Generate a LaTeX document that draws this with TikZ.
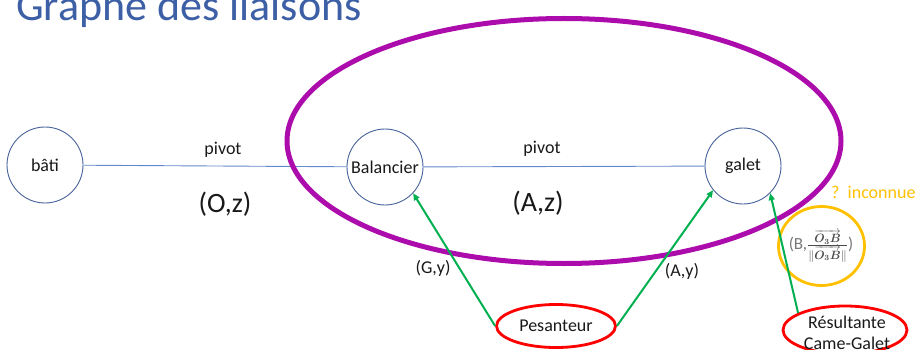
\documentclass[tikz,border=0pt]{standalone}
\usepackage{amsmath}
\usepackage{fontspec}
\setmainfont{Carlito}
\usetikzlibrary{arrows.meta,shapes.geometric}
\definecolor{titleblue}{RGB}{60,95,165}
\definecolor{circblue}{RGB}{72,98,155}
\definecolor{linkblue}{RGB}{100,135,205}
\definecolor{purp}{RGB}{172,12,172}
\definecolor{actgreen}{RGB}{0,176,80}
\definecolor{orng}{RGB}{255,192,0}
\definecolor{extred}{RGB}{255,0,0}
\definecolor{lblgray}{RGB}{120,120,120}
\begin{document}
\begin{tikzpicture}[x=1pt,y=-1pt,
  every node/.style={font=\fontsize{18}{21}\selectfont, text=black!90},
  part/.style={circle, draw=circblue, line width=0.9pt, minimum size=76pt, inner sep=0pt, fill=white},
  ext/.style={ellipse, draw=extred, line width=2.8pt, inner sep=0pt},
  link/.style={draw=linkblue, line width=0.9pt},
  act/.style={draw=actgreen, line width=2pt, -{Triangle[length=7pt,width=6pt]}},
  big/.style={font=\fontsize{28}{32}\selectfont}]
\useasboundingbox (0,0) rectangle (915,350);
\node[anchor=base west, text=titleblue, font=\fontsize{44}{50}\selectfont, inner sep=0pt] (title) at (16,21) {Graphe des liaisons};
% parts
\node[part] (bati) at (45,165) {bâti};
\node[part] (bal) at (385,167) {Balancier};
\node[part] (galet) at (743,166) {galet};
\draw[link] (bati) -- (bal);
\draw[link] (bal) -- (galet);
\node (p1) at (223,150) {pivot};
\node[big] (oz) at (225,204) {(O,z)};
\node (p2) at (542,149) {pivot};
\node[big] (az) at (538,203) {(A,z)};
% group ellipse
\node[ellipse, draw=purp, line width=5pt, minimum width=554pt, minimum height=245pt, inner sep=0pt] (grp) at (564,141) {};
% unknown
\node[ellipse, draw=orng, line width=2.8pt, minimum width=86pt, minimum height=79pt, inner sep=0pt] (inc) at (821.5,246) {};
\node[text=lblgray, font=\fontsize{17}{20}\selectfont, inner sep=0pt] (inctxt) at (821,246) {(B,$\color{black!70}\frac{\overrightarrow{\boldsymbol{O_3B}}}{\|\overrightarrow{\boldsymbol{O_3B}}\|}$)};
\node[anchor=west, text=orng, inner sep=0pt] (inq) at (831,192) {?~~inconnue};
% external actions
\node[ext, minimum width=119pt, minimum height=43pt] (pes) at (556,326) {Pesanteur};
\node[ext, minimum width=124pt, minimum height=48pt] (res) at (845,330) {};
\node[align=center, inner sep=0pt] (restxt) at (847,333) {Résultante\\Came-Galet};
% actions
\draw[act] (pes.180) -- (bal.-43);
\draw[act] (pes.0) -- (galet.-141);
\draw[act] (res.160) -- (galet.-45);
\node (gy) at (433,268) {(G,y)};
\node (ay) at (682,271) {(A,y)};
\end{tikzpicture}
\end{document}
